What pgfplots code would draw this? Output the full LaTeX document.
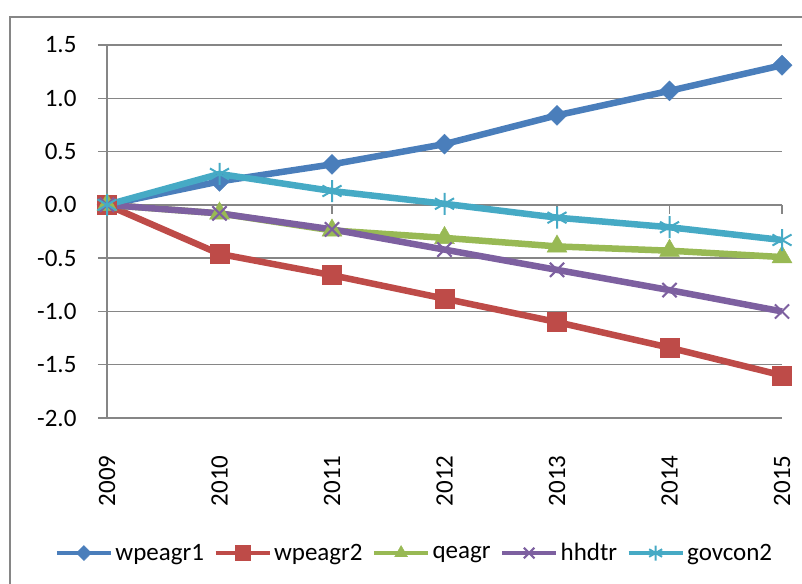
\documentclass[border=0pt]{standalone}
\usepackage{fontspec}
\setmainfont{Carlito}
\usepackage{pgfplots}
\pgfplotsset{compat=1.18}
\definecolor{cBlue}{HTML}{4A7EBB}
\definecolor{cRed}{HTML}{BE4B48}
\definecolor{cGreen}{HTML}{98B954}
\definecolor{cPurple}{HTML}{7D60A0}
\definecolor{cAqua}{HTML}{46AAC5}
\definecolor{gridgray}{HTML}{868686}
\begin{document}
\begin{tikzpicture}[font=\fontsize{25}{30}\selectfont]
\useasboundingbox (0,0) rectangle (802pt,583pt);
\draw[gridgray, line width=1.2pt] (10pt,-5pt) -- (10pt,566pt) -- (810pt,566pt);
\begin{axis}[
  at={(107pt,165pt)}, anchor=south west,
  scale only axis, width=675pt, height=373pt,
  xmin=0, xmax=6, ymin=-2, ymax=1.5,
  clip=false,
  xtick={0,1,2,3,4,5,6},
  xticklabels={2009,2010,2011,2012,2013,2014,2015},
  ytick={-2,-1.5,-1,-0.5,0,0.5,1,1.5},
  yticklabels={-2.0,-1.5,-1.0,-0.5,0.0,0.5,1.0,1.5},
  axis x line=bottom, axis y line=left,
  x axis line style={draw=none},
  y axis line style={gridgray, line width=1.5pt, -},
  xmajorgrids=false, ymajorgrids=true,
  xtick style={draw=none},
  ytick style={gridgray, line width=1.5pt},
  tick align=outside, major tick length=9pt,
  grid style={gridgray, line width=1.5pt},
  xticklabel style={yshift=-25pt, rotate=90, anchor=east, font=\fontsize{25}{30}\selectfont},
  yticklabel style={xshift=-18pt, font=\fontsize{25}{30}\selectfont},
  legend columns=-1,
  legend style={at={(0.456,-0.362)}, anchor=center, draw=none, fill=none,
    font=\fontsize{25}{30}\selectfont, inner sep=0pt,
    nodes={inner sep=2.5pt},
    /tikz/every even column/.append style={column sep=7pt}},
  legend image code/.code={\draw[line width=4pt, mark size=7.5pt, mark repeat=2,mark phase=2] plot coordinates {(0pt,0pt)(27pt,0pt)(54pt,0pt)};},
]
\draw[gridgray, line width=1.5pt] (axis cs:0,0) -- (axis cs:6,0);
\draw[gridgray, line width=1.5pt] (axis cs:1,0) -- ([yshift=-9pt]axis cs:1,0);
\draw[gridgray, line width=1.5pt] (axis cs:2,0) -- ([yshift=-9pt]axis cs:2,0);
\draw[gridgray, line width=1.5pt] (axis cs:3,0) -- ([yshift=-9pt]axis cs:3,0);
\draw[gridgray, line width=1.5pt] (axis cs:4,0) -- ([yshift=-9pt]axis cs:4,0);
\draw[gridgray, line width=1.5pt] (axis cs:5,0) -- ([yshift=-9pt]axis cs:5,0);
\draw[gridgray, line width=1.5pt] (axis cs:6,0) -- ([yshift=-9pt]axis cs:6,0);
\addplot[cBlue, line width=6.5pt, mark=diamond*, mark size=10pt, mark options={solid, line width=0.4pt, xscale=1.33}]
  coordinates {(0,0)(1,0.22)(2,0.38)(3,0.57)(4,0.84)(5,1.07)(6,1.31)};
\addlegendentry{wpeagr1}
\addplot[cRed, line width=6.5pt, mark=square*, mark size=9.5pt, mark options={solid, line width=0.4pt}]
  coordinates {(0,0)(1,-0.46)(2,-0.66)(3,-0.88)(4,-1.10)(5,-1.34)(6,-1.60)};
\addlegendentry{wpeagr2}
\addplot[cGreen, line width=6.5pt, mark=triangle*, mark size=11.5pt, mark options={solid, line width=0.4pt}]
  coordinates {(0,0)(1,-0.08)(2,-0.24)(3,-0.31)(4,-0.39)(5,-0.43)(6,-0.49)};
\addlegendentry{qeagr}
\addplot[cPurple, line width=6.5pt, mark=x, mark size=10pt, mark options={solid, line width=2pt}]
  coordinates {(0,0)(1,-0.08)(2,-0.23)(3,-0.42)(4,-0.61)(5,-0.80)(6,-1.00)};
\addlegendentry{hhdtr}
\addplot[cAqua, line width=6.5pt, mark=asterisk, mark size=11pt, mark options={solid, line width=2pt}]
  coordinates {(0,0)(1,0.29)(2,0.13)(3,0.01)(4,-0.12)(5,-0.21)(6,-0.33)};
\addlegendentry{govcon2}
\end{axis}
\end{tikzpicture}
\end{document}
